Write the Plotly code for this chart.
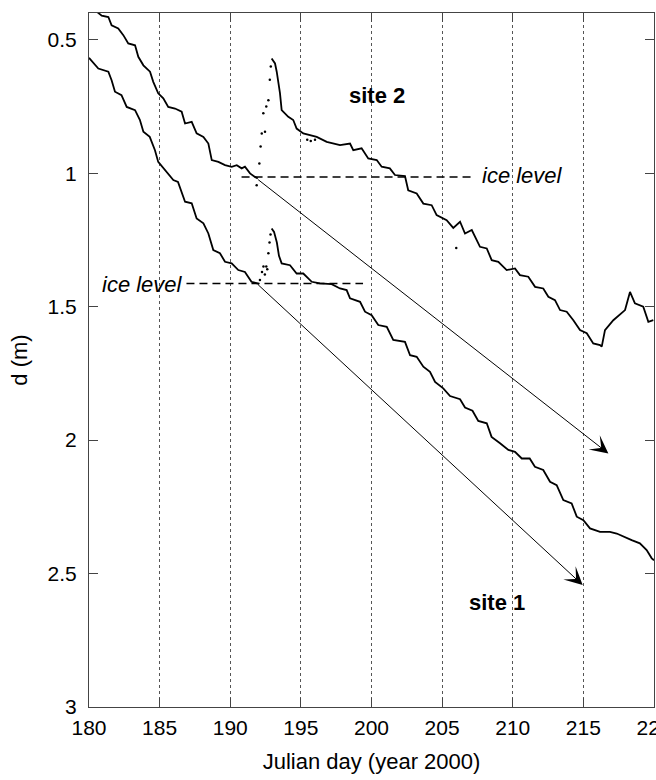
import plotly.graph_objects as go

# ---- data ----
site1_day = [180.0, 180.66, 181.37, 181.6, 181.84, 182.3, 182.67, 183.26, 183.6, 183.85, 184.3, 184.67,
             184.9, 185.4, 185.97, 186.3, 186.8, 187.27, 187.62, 188.1, 188.45, 188.8, 189.27, 189.63,
             190.1, 190.57, 191.04, 191.5, 191.87, 192.05, None,
             192.93, 193.1, 193.3, 193.45, 193.64, 194.23, 194.7, 195.17, 195.77, 196.35, 197.18, 197.77,
             198.24, 198.48, 199.19, 199.54, 200.01, 200.48, 201.08, 201.54, 202.37, 202.73, 203.2, 203.67,
             204.14, 204.5, 205.08, 205.56, 206.27, 206.62, 207.15, 207.56, 208.16, 208.5, 209.1, 209.69,
             210.16, 210.64, 211.2, 211.57, 212.16, 212.64, 213.11, 213.58, 214.17, 214.53, 215.0, 215.47,
             216.18, 216.88, 217.36, 217.83, 218.42, 219.0, 219.48, 219.84, 220.0]
site1_d = [0.568, 0.608, 0.62, 0.652, 0.695, 0.708, 0.752, 0.764, 0.80, 0.845, 0.864, 0.914,
           0.958, 0.989, 1.026, 1.033, 1.107, 1.113, 1.17, 1.188, 1.226, 1.288, 1.30, 1.332,
           1.338, 1.363, 1.37, 1.407, 1.413, 1.415, None,
           1.207, 1.22, 1.26, 1.31, 1.338, 1.345, 1.376, 1.376, 1.407, 1.413, 1.416, 1.432,
           1.438, 1.469, 1.482, 1.519, 1.532, 1.569, 1.576, 1.625, 1.632, 1.682, 1.688, 1.725,
           1.744, 1.782, 1.806, 1.835, 1.847, 1.878, 1.89, 1.928, 1.937, 1.988, 2.012, 2.037,
           2.044, 2.069, 2.069, 2.1, 2.112, 2.156, 2.169, 2.225, 2.237, 2.287, 2.30, 2.331,
           2.344, 2.344, 2.35, 2.362, 2.375, 2.387, 2.412, 2.443, 2.45]
site1_spike_day = [192.1, 192.25, 192.35, 192.45, 192.55, 192.62, 192.7, 192.78, 192.85]
site1_spike_d = [1.40, 1.37, 1.35, 1.38, 1.35, 1.36, 1.30, 1.26, 1.23]

site2_day = [180.55, 180.9, 181.37, 181.6, 182.07, 182.43, 182.78, 183.26, 183.49, 183.85, 184.32, 184.55,
             184.9, 185.26, 185.61, 186.09, 186.56, 186.8, 187.27, 187.62, 188.1, 188.45, 188.69, 189.16,
             189.63, 190.1, 190.46, 190.81, 191.04, 191.4, 191.75, 191.95, None,
             192.93, 193.05, 193.17, 193.29, 193.4, 193.52, 193.64, 193.76, 194.11, 194.46, 194.7, 195.17,
             195.65, 196.12, 196.83, 197.77, 198.48, 198.71, 199.3, 199.77, 200.37, 200.72, 201.3, 201.66,
             202.37, 202.6, 203.2, 203.67, 204.26, 204.61, 205.32, 205.79, 206.27, 206.62, 207.1, 207.68,
             208.16, 208.51, 208.98, 209.57, 210.16, 210.51, 211.1, 211.58, 212.16, 212.52, 212.99, 213.35,
             213.82, 214.29, 214.76, 215.24, 215.7, 216.18, 216.3, 216.53, 217.12, 217.71, 217.95, 218.3,
             218.65, 219.24, 219.6, 219.95]
site2_d = [0.395, 0.41, 0.415, 0.446, 0.458, 0.483, 0.514, 0.521, 0.564, 0.596, 0.62, 0.658,
           0.701, 0.72, 0.752, 0.758, 0.77, 0.814, 0.808, 0.851, 0.864, 0.889, 0.951, 0.958,
           0.97, 0.976, 0.97, 0.982, 0.976, 1.001, 1.014, 1.02, None,
           0.57, 0.58, 0.589, 0.62, 0.652, 0.70, 0.764, 0.77, 0.789, 0.801, 0.833, 0.851,
           0.858, 0.864, 0.883, 0.895, 0.889, 0.914, 0.907, 0.945, 0.951, 0.976, 0.982, 1.007,
           1.011, 1.064, 1.076, 1.114, 1.12, 1.157, 1.176, 1.205, 1.182, 1.226, 1.213, 1.276,
           1.282, 1.326, 1.332, 1.363, 1.357, 1.382, 1.388, 1.426, 1.432, 1.463, 1.476, 1.513,
           1.519, 1.551, 1.588, 1.60, 1.638, 1.644, 1.65, 1.588, 1.551, 1.526, 1.513, 1.445,
           1.488, 1.50, 1.557, 1.551]
site2_spike_day = [191.87, 192.06, 192.15, 192.23, 192.34, 192.46, 192.55, 192.7, 192.8, 192.87,
                   195.45, 195.7, 196.0, 206.0]
site2_spike_d = [1.045, 0.964, 0.90, 0.851, 0.776, 0.845, 0.75, 0.727, 0.65, 0.60,
                 0.875, 0.88, 0.875, 1.28]

x_ticks = [180, 185, 190, 195, 200, 205, 210, 215, 220]
y_ticks = [0.5, 1, 1.5, 2, 2.5, 3]

FONT = "Liberation Sans, Arial, Helvetica, sans-serif"

fig = go.Figure()
for xs, ys in [(site1_day, site1_d), (site2_day, site2_d)]:
    fig.add_trace(go.Scatter(x=xs, y=ys, mode="lines", line=dict(color="black", width=1.8),
                             connectgaps=False, hoverinfo="skip", showlegend=False))
for xs, ys in [(site1_spike_day, site1_spike_d), (site2_spike_day, site2_spike_d)]:
    fig.add_trace(go.Scatter(x=xs, y=ys, mode="markers", marker=dict(color="black", size=2.5),
                             hoverinfo="skip", showlegend=False))

# ice level dashed lines
fig.add_shape(type="line", x0=190.8, x1=207.1, y0=1.014, y1=1.014, xref="x", yref="y",
              line=dict(color="black", width=1.5, dash="8px,5px"))
fig.add_shape(type="line", x0=186.9, x1=199.4, y0=1.413, y1=1.413, xref="x", yref="y",
              line=dict(color="black", width=1.5, dash="8px,5px"))

# arrows
fig.add_annotation(x=216.77, y=2.05, ax=191.87, ay=1.02, xref="x", yref="y", axref="x", ayref="y",
                   text="", showarrow=True, arrowhead=3, arrowsize=3, arrowwidth=1, arrowcolor="black",
                   standoff=0, startstandoff=0)
fig.add_annotation(x=214.95, y=2.543, ax=191.87, ay=1.413, xref="x", yref="y", axref="x", ayref="y",
                   text="", showarrow=True, arrowhead=3, arrowsize=3, arrowwidth=1, arrowcolor="black",
                   standoff=0, startstandoff=0)

# labels
fig.add_annotation(x=200.39, y=0.708, text="<b>site 2</b>", showarrow=False,
                   font=dict(family=FONT, size=22, color="black"))
fig.add_annotation(x=208.89, y=2.607, text="<b>site 1</b>", showarrow=False,
                   font=dict(family=FONT, size=22, color="black"))
fig.add_annotation(x=207.7, y=1.01, text="<i>ice level</i>", showarrow=False, xanchor="left",
                   font=dict(family=FONT, size=22, color="black"))
fig.add_annotation(x=186.8, y=1.417, text="<i>ice level</i>", showarrow=False, xanchor="right",
                   font=dict(family=FONT, size=22, color="black"))

fig.update_layout(
    width=656, height=780,
    margin=dict(l=89, r=2, t=13, b=73, autoexpand=False),
    paper_bgcolor="white", plot_bgcolor="white",
    font=dict(family=FONT, size=21, color="black"),
    showlegend=False,
)
fig.update_xaxes(
    range=[180, 220], tickvals=x_ticks, ticktext=[str(v) for v in x_ticks],
    showgrid=True, gridcolor="#555555", griddash="dot", gridwidth=1,
    showline=True, linecolor="#444444", linewidth=1.2, mirror="ticks",
    ticks="inside", ticklen=9, tickcolor="#444444",
    zeroline=False, ticklabelstandoff=2, ticklabeloverflow="allow", automargin=False,
    title=dict(text="Julian day (year 2000)", font=dict(size=22), standoff=15),
)
fig.update_yaxes(
    range=[3, 0.4], tickvals=y_ticks, ticktext=["0.5", "1", "1.5", "2", "2.5", "3"],
    showgrid=False,
    showline=True, linecolor="#444444", linewidth=1.2, mirror="ticks",
    ticks="inside", ticklen=9, tickcolor="#444444",
    zeroline=False, ticklabelstandoff=7, ticklabeloverflow="allow", automargin=False,
    title=dict(text="d (m)", font=dict(size=22), standoff=13),
)

# remove the default page margin so the 656x780 figure fills the window exactly
fig.write_html("out.html", config={"displayModeBar": False},
               post_script="document.body.style.margin='0';document.body.style.overflow='hidden';")
